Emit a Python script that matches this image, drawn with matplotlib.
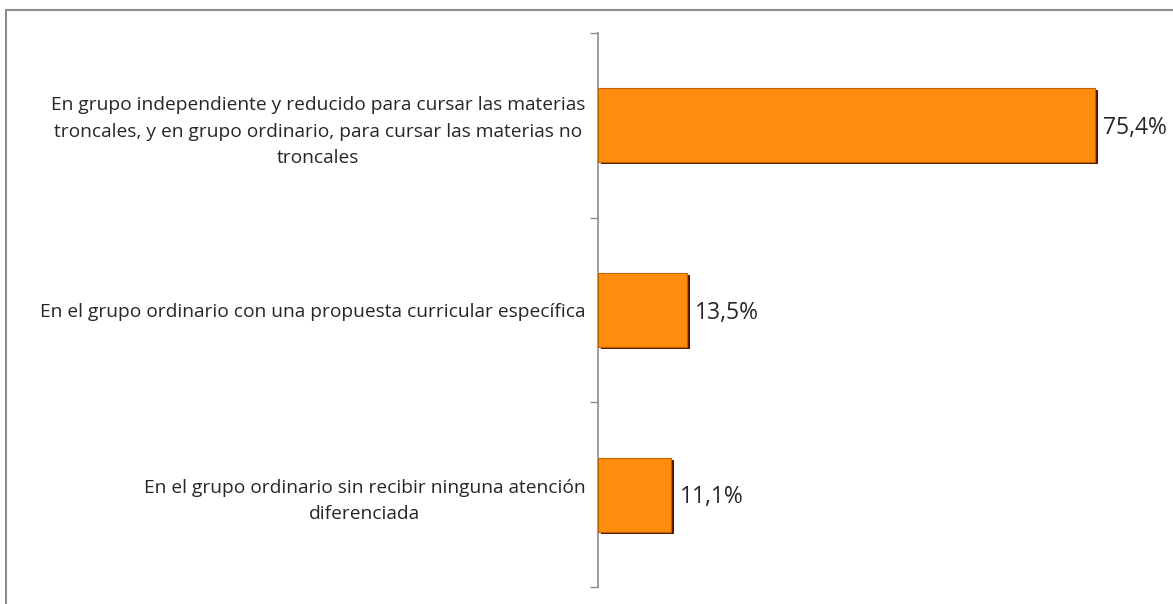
import matplotlib.pyplot as plt
import matplotlib.patheffects as pe
from matplotlib.patches import Rectangle

# datos
categorias = [
    "En grupo independiente y reducido para cursar las materias\n"
    "troncales, y en grupo ordinario, para cursar las materias no\n"
    "troncales",
    "En el grupo ordinario con una propuesta curricular específica",
    "En el grupo ordinario sin recibir ninguna atención\n"
    "diferenciada",
]
valores = [75.4, 13.5, 11.1]
etiquetas = ["75,4%", "13,5%", "11,1%"]

plt.rcParams['font.family'] = ['Open Sans', 'DejaVu Sans']

fig = plt.figure(figsize=(11.73, 6.04), dpi=100)
# marco gris del gráfico
fig.patches.append(Rectangle((6 / 1173, -0.05), 1.2, 1 - 10 / 604 + 0.05,
                             transform=fig.transFigure, fill=False,
                             edgecolor='#8c8c8c', linewidth=1.5))

ax = fig.add_axes([598 / 1173, 17 / 604, 572 / 1173, 554 / 604])

pos = list(range(len(valores)))
barras = ax.barh(pos, valores, height=0.4, color='#ff8c0c', edgecolor='#c06200',
                 linewidth=0.8, zorder=3)
for b in barras:
    b.set_path_effects([pe.SimplePatchShadow(offset=(2, -1.5), shadow_rgbFace='#5a1500', alpha=1),
                        pe.Normal()])

for p, v, t in zip(pos, valores, etiquetas):
    ax.annotate(t, (v, p), xytext=(6, -2), textcoords='offset points',
                va='center', ha='left', fontsize=16.5, color='#262626')

ax.set_ylim(2.5, -0.5)
ax.set_xlim(0, 86.8)
ax.set_yticks(pos)
ax.set_yticklabels(categorias, fontsize=13.8, color='#262626',
                   multialignment='center', linespacing=1.6)
ax.set_yticks([-0.5, 0.5, 1.5, 2.5], minor=True)
ax.tick_params(axis='y', which='major', length=0, pad=9)
ax.tick_params(axis='y', which='minor', length=6, color='#8c8c8c', width=1)
ax.set_xticks([])
for s in ['top', 'right', 'bottom']:
    ax.spines[s].set_visible(False)
ax.spines['left'].set_color('#8c8c8c')
ax.spines['left'].set_linewidth(1.2)

fig.savefig('out.png', dpi=100)
